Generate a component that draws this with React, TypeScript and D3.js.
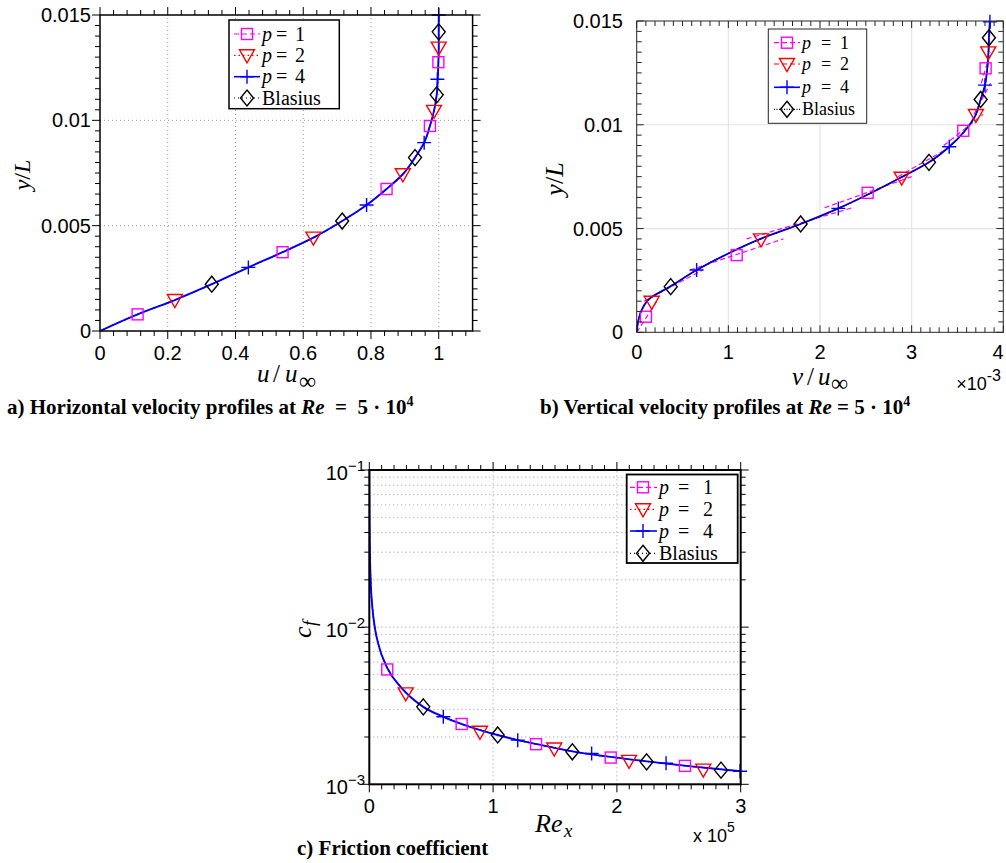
import React from 'react';
import * as d3 from 'd3';

// ---------------- Panel a: u/u_inf vs y/L ----------------
const aCurveU = [0, 0.111, 0.221, 0.330, 0.438, 0.539, 0.630, 0.715, 0.787, 0.846, 0.894, 0.930, 0.957, 0.974, 0.986, 0.994, 0.997, 0.999, 1.0, 1.0, 1.0];
const aCurveY = [0, 0.00079, 0.00147, 0.00222, 0.00302, 0.00374, 0.00443, 0.00522, 0.00598, 0.00674, 0.00744, 0.00823, 0.00894, 0.00973, 0.01045, 0.01121, 0.01195, 0.01276, 0.01345, 0.0142, 0.015];
const aP1: [number, number][] = [[0.111, 0.00079], [0.539, 0.00374], [0.846, 0.00674], [0.974, 0.00973], [0.999, 0.01276]];
const aP2: [number, number][] = [[0.221, 0.00147], [0.630, 0.00443], [0.894, 0.00744], [0.986, 0.01045], [1.0, 0.01345]];
const aP4: [number, number][] = [[0.438, 0.00302], [0.787, 0.00598], [0.957, 0.00894], [0.996, 0.01195], [1.0, 0.015]];
const aBl: [number, number][] = [[0.330, 0.00222], [0.715, 0.00522], [0.930, 0.00823], [0.994, 0.01121], [1.0, 0.0142]];
const aXTicks = [0, 0.2, 0.4, 0.6, 0.8, 1];
const aXTickLabels = ['0', '0.2', '0.4', '0.6', '0.8', '1'];
const aYTicks = [0, 0.005, 0.01, 0.015];
const aYTickLabels = ['0', '0.005', '0.01', '0.015'];

// ---------------- Panel b: v/u_inf (x1e-3) vs y/L ----------------
const bCurveV = [0, 0.015, 0.054, 0.145, 0.363, 0.654, 1.0, 1.35, 1.789, 2.2, 2.55, 2.9, 3.189, 3.41, 3.58, 3.69, 3.753, 3.80, 3.825, 3.838, 3.843, 3.854];
const bCurveY = [0, 0.0005, 0.00107, 0.00164, 0.0022, 0.003, 0.0038, 0.0045, 0.00522, 0.00597, 0.0067, 0.0075, 0.00819, 0.00894, 0.0097, 0.0104, 0.01122, 0.01191, 0.0127, 0.0135, 0.01419, 0.015];
// p = 1 solution: one straight piece per element, [v0, y0, v1, y1]
const bP1Pieces: [number, number, number, number][] = [
  [0.0, 0.0, 0.22, 0.0015],
  [0.08, 0.0015, 0.72, 0.003],
  [0.58, 0.003, 1.6, 0.0045],
  [1.2, 0.0045, 2.35, 0.006],
  [2.05, 0.006, 3.0, 0.0075],
  [2.85, 0.0075, 3.45, 0.009],
  [3.35, 0.009, 3.78, 0.0105],
  [3.68, 0.0105, 3.86, 0.012],
  [3.76, 0.012, 3.86, 0.0135],
  [3.84, 0.0135, 3.86, 0.015],
];
const bP1: [number, number][] = [[0.101, 0.00075], [1.091, 0.00372], [2.52, 0.00672], [3.563, 0.00971], [3.807, 0.01272]];
const bP2: [number, number][] = [[0.164, 0.00147], [1.356, 0.00448], [2.891, 0.00745], [3.701, 0.01047], [3.836, 0.01349]];
const bP4: [number, number][] = [[0.654, 0.003], [2.2, 0.00597], [3.41, 0.00894], [3.80, 0.01191], [3.854, 0.01496]];
const bBl: [number, number][] = [[0.371, 0.0022], [1.789, 0.00522], [3.189, 0.00819], [3.753, 0.01122], [3.843, 0.01419]];
const bXTicks = [0, 1, 2, 3, 4];
const bXTickLabels = ['0', '1', '2', '3', '4'];

// ---------------- Panel c: Re_x (x1e5) vs c_f ----------------
const cCurveX = [0.0005, 0.002, 0.005, 0.011, 0.025, 0.046, 0.073, 0.145, 0.25, 0.436, 0.598, 0.8, 1.037, 1.199, 1.4, 1.64, 1.9, 2.24, 2.6, 3.0];
const cCurveY = [0.1, 0.048, 0.03, 0.02, 0.0133, 0.0098, 0.0078, 0.0055, 0.0042, 0.00311, 0.00269, 0.00234, 0.00206, 0.00191, 0.00177, 0.00162, 0.00151, 0.0014, 0.0013, 0.00121];
const cP1: [number, number][] = [[0.145, 0.00538], [0.746, 0.00242], [1.347, 0.0018], [1.95, 0.00148], [2.55, 0.00131]];
const cP2: [number, number][] = [[0.294, 0.00379], [0.894, 0.00216], [1.494, 0.00169], [2.098, 0.00141], [2.698, 0.00124]];
const cP4: [number, number][] = [[0.598, 0.00269], [1.199, 0.00191], [1.796, 0.00157], [2.397, 0.00136], [2.995, 0.00121]];
const cBl: [number, number][] = [[0.436, 0.00311], [1.037, 0.00206], [1.64, 0.00161], [2.24, 0.00139], [2.841, 0.00123]];
const cXTicks = [0, 1, 2, 3];
const cXTickLabels = ['0', '1', '2', '3'];
const cYTicks = [1e-3, 1e-2, 1e-1];
const cYTickExp = ['\u22123', '\u22122', '\u22121'];

const SANS = "'Liberation Sans', Arial, Helvetica, sans-serif";
const SERIF = "'Liberation Serif', 'Times New Roman', serif";

type Kind = 'square' | 'tri' | 'plus' | 'diamond';

function Marker({ kind, x, y, color, sw = 1.4 }: { kind: Kind; x: number; y: number; color: string; sw?: number }) {
  if (kind === 'square') return <rect x={x - 5.5} y={y - 5.5} width={11} height={11} fill="none" stroke={color} strokeWidth={sw} />;
  if (kind === 'tri') return <path d={`M${x - 7.5},${y - 5.5}L${x + 7.5},${y - 5.5}L${x},${y + 7.5}Z`} fill="none" stroke={color} strokeWidth={sw} />;
  if (kind === 'plus') return <path d={`M${x - 7},${y}H${x + 7}M${x},${y - 7}V${y + 7}`} fill="none" stroke={color} strokeWidth={sw} />;
  return <path d={`M${x},${y - 8}L${x + 6.5},${y}L${x},${y + 8}L${x - 6.5},${y}Z`} fill="none" stroke={color} strokeWidth={sw} />;
}

function Frame(props: {
  xs: any; ys: any; xMaj: number[]; xMin: number[]; yMaj: number[]; yMin: number[];
  out: boolean; majLen: number; minLen: number; stroke: string; sw: number;
}) {
  const { xs, ys, xMaj, xMin, yMaj, yMin, out, majLen, minLen, stroke, sw } = props;
  const [x0, x1] = xs.range();
  const [yb, yt] = ys.range();
  const s = out ? 1 : -1;
  let d = '';
  const xt: [number, number][] = [...xMaj.map((v) => [v, majLen] as [number, number]), ...xMin.map((v) => [v, minLen] as [number, number])];
  const yt2: [number, number][] = [...yMaj.map((v) => [v, majLen] as [number, number]), ...yMin.map((v) => [v, minLen] as [number, number])];
  for (const [v, len] of xt) {
    const px = xs(v);
    d += `M${px},${yb}v${s * len}M${px},${yt}v${-s * len}`;
  }
  for (const [v, len] of yt2) {
    const py = ys(v);
    d += `M${x0},${py}h${-s * len}M${x1},${py}h${s * len}`;
  }
  return (
    <g>
      <path d={d} stroke={stroke} strokeWidth={1} fill="none" />
      <rect x={x0} y={yt} width={x1 - x0} height={yb - yt} fill="none" stroke={stroke} strokeWidth={sw} />
    </g>
  );
}

const SERIES = [
  { key: 'p1', color: '#ff00ff', kind: 'square' as Kind, label: '1' },
  { key: 'p2', color: '#ff0000', kind: 'tri' as Kind, label: '2' },
  { key: 'p4', color: '#0000ff', kind: 'plus' as Kind, label: '4' },
  { key: 'bl', color: '#000000', kind: 'diamond' as Kind, label: 'Blasius' },
];

function Legend({ x, y, w, h, rows, lx0, lx1, mx, tx, fs, eqDx, numDx, dashes, boxSw, boxStroke }: any) {
  return (
    <g>
      <rect x={x} y={y} width={w} height={h} fill="#fff" stroke={boxStroke} strokeWidth={boxSw} />
      {SERIES.map((s, i) => (
        <g key={s.key}>
          <line x1={lx0} x2={lx1} y1={rows[i]} y2={rows[i]} stroke={s.color} strokeWidth={s.key === 'p4' ? 1.6 : 1.2} strokeDasharray={dashes[i]} />
          <Marker kind={s.kind} x={mx} y={rows[i]} color={s.color} />
          {s.key === 'bl' ? (
            <text x={tx} y={rows[i] + fs * 0.33} fontFamily={SERIF} fontSize={fs}>Blasius</text>
          ) : (
            <g>
              <text x={tx} y={rows[i] + fs * 0.33} fontFamily={SERIF} fontSize={fs} fontStyle="italic">p</text>
              <text x={tx + eqDx} y={rows[i] + fs * 0.33} fontFamily={SERIF} fontSize={fs}>=</text>
              <text x={tx + numDx} y={rows[i] + fs * 0.33} fontFamily={SERIF} fontSize={fs}>{s.label}</text>
            </g>
          )}
        </g>
      ))}
    </g>
  );
}

export default function App() {
  // ---- scales
  const ax = d3.scaleLinear().domain([0, 1.1]).range([100, 472.6]);
  const ay = d3.scaleLinear().domain([0, 0.015]).range([331, 15]);
  const bx = d3.scaleLinear().domain([0, 4]).range([636.7, 1003.3]);
  const by = d3.scaleLinear().domain([0, 0.015]).range([332.3, 21]);
  const cx = d3.scaleLinear().domain([0, 3]).range([369.3, 740.7]);
  const cy = d3.scaleLog().domain([1e-3, 1e-1]).range([784.3, 470]);

  const lineA = d3.line<number>().x((_, i) => ax(aCurveU[i])).y((_, i) => ay(aCurveY[i])).curve(d3.curveMonotoneY);
  const lineB = d3.line<number>().x((_, i) => bx(bCurveV[i])).y((_, i) => by(bCurveY[i])).curve(d3.curveMonotoneY);
  const lineC = d3.line<number>().x((_, i) => cx(cCurveX[i])).y((_, i) => cy(cCurveY[i])).curve(d3.curveMonotoneX);
  const pathA = lineA(aCurveU) || '';
  const pathB = lineB(bCurveV) || '';
  const pathC = lineC(cCurveX) || '';
  const pathBP1 = bP1Pieces.map((p) => `M${bx(p[0])},${by(p[1])}L${bx(p[2])},${by(p[3])}`).join('');

  const aXMin = d3.range(0, 1.1, 0.04).filter((v) => !aXTicks.some((t) => Math.abs(t - v) < 1e-6));
  const yMinLin = d3.range(0, 0.0151, 0.0005).filter((v) => !aYTicks.some((t) => Math.abs(t - v) < 1e-7));
  const bXMin = d3.range(0, 4.001, 0.1).filter((v) => !bXTicks.some((t) => Math.abs(t - v) < 1e-6));
  const cXMin = d3.range(0, 3.001, 0.1).filter((v) => !cXTicks.some((t) => Math.abs(t - v) < 1e-6));
  const cYMin: number[] = [];
  [1e-3, 1e-2].forEach((dec) => d3.range(2, 10).forEach((m) => cYMin.push(m * dec)));

  const markersFor = (xs: any, ys: any, sets: [number, number][][]) =>
    sets.map((pts, si) => pts.map((p, j) => <Marker key={`${si}-${j}`} kind={SERIES[si].kind} x={xs(p[0])} y={ys(p[1])} color={SERIES[si].color} />));

  return (
    <svg width={1006} height={863} style={{ position: 'absolute', left: 0, top: 0, background: '#fff' }}>
      <defs>
        <clipPath id="clipA"><rect x={100} y={15} width={372.6} height={316} /></clipPath>
        <clipPath id="clipB"><rect x={636.7} y={21} width={366.6} height={311.3} /></clipPath>
        <clipPath id="clipC"><rect x={369.3} y={470} width={371.4} height={314.3} /></clipPath>
      </defs>
      <rect x={0} y={0} width={1006} height={863} fill="#fff" />

      {/* ================= Panel a ================= */}
      <g>
        {aXTicks.slice(1).map((t) => (
          <line key={'ag' + t} x1={ax(t)} x2={ax(t)} y1={ay(0)} y2={ay(0.015)} stroke="#9a9a9a" strokeWidth={1} strokeDasharray="1,3" />
        ))}
        {aYTicks.slice(1, 3).map((t) => (
          <line key={'agy' + t} x1={ax(0)} x2={ax(1.1)} y1={ay(t)} y2={ay(t)} stroke="#9a9a9a" strokeWidth={1} strokeDasharray="1,3" />
        ))}
        <g clipPath="url(#clipA)">
          <path d={pathA} fill="none" stroke="#000" strokeWidth={1.2} strokeDasharray="1,2.5" />
          <path d={pathA} fill="none" stroke="#ff00ff" strokeWidth={1.2} strokeDasharray="6,3" />
          <path d={pathA} fill="none" stroke="#ff0000" strokeWidth={1.2} strokeDasharray="1.5,3" />
          <path d={pathA} fill="none" stroke="#0000ff" strokeWidth={1.9} />
        </g>
        {markersFor(ax, ay, [aP1, aP2, aP4, aBl])}
        <Frame xs={ax} ys={ay} xMaj={aXTicks} xMin={aXMin} yMaj={aYTicks} yMin={yMinLin} out={true} majLen={8} minLen={5} stroke="#000" sw={1.5} />
        {aXTicks.map((t, i) => (
          <text key={'axl' + t} x={ax(t)} y={360} textAnchor="middle" fontFamily={SANS} fontSize={20}>{aXTickLabels[i]}</text>
        ))}
        {aYTicks.map((t, i) => (
          <text key={'ayl' + t} x={91} y={ay(t) + 7} textAnchor="end" fontFamily={SANS} fontSize={20}>{aYTickLabels[i]}</text>
        ))}
        <Legend x={229} y={20} w={110.3} h={88.7} rows={[34, 55.3, 76.7, 98]} lx0={234} lx1={260} mx={247} tx={262} fs={20} eqDx={14} numDx={33}
          dashes={['5,3', '1.5,3', undefined, '1,3']} boxSw={1.5} boxStroke="#000" />
        <text y={382} fontFamily={SERIF} fontSize={25}>
          <tspan x={257} fontStyle="italic">u</tspan>
          <tspan x={273}>/</tspan>
          <tspan x={285} fontStyle="italic">u</tspan>
          <tspan x={299} y={389} fontSize={24}>∞</tspan>
        </text>
        <text transform="translate(30,175) rotate(-90)" textAnchor="middle" fontFamily={SERIF} fontSize={24}>
          <tspan fontStyle="italic">y</tspan>/<tspan fontStyle="italic">L</tspan>
        </text>
        <text x={7} y={414} fontFamily={SERIF} fontWeight="bold" fontSize={21} style={{ whiteSpace: 'pre' }}>
          a) Horizontal velocity profiles at <tspan fontStyle="italic">Re</tspan>{'  =  5 · 10'}<tspan dy={-8} fontSize={14}>4</tspan>
        </text>
      </g>

      {/* ================= Panel b ================= */}
      <g>
        {bXTicks.slice(1, 4).map((t) => (
          <line key={'bg' + t} x1={bx(t)} x2={bx(t)} y1={by(0)} y2={by(0.015)} stroke="#e3e3e3" strokeWidth={1.2} />
        ))}
        {aYTicks.slice(1, 3).map((t) => (
          <line key={'bgy' + t} x1={bx(0)} x2={bx(4)} y1={by(t)} y2={by(t)} stroke="#e3e3e3" strokeWidth={1.2} />
        ))}
        <g clipPath="url(#clipB)">
          <path d={pathBP1} fill="none" stroke="#ff00ff" strokeWidth={1.2} strokeDasharray="5,3" />
          <path d={pathB} fill="none" stroke="#ff0000" strokeWidth={1.2} strokeDasharray="5,3" />
          <path d={pathB} fill="none" stroke="#0000ff" strokeWidth={1.8} />
          <path d={pathB} fill="none" stroke="#000033" strokeWidth={1.2} strokeDasharray="1,1.5" />
        </g>
        {markersFor(bx, by, [bP1, bP2, bP4, bBl])}
        <Frame xs={bx} ys={by} xMaj={bXTicks} xMin={bXMin} yMaj={aYTicks} yMin={yMinLin} out={false} majLen={7} minLen={5} stroke="#262626" sw={1} />
        {bXTicks.map((t, i) => (
          <text key={'bxl' + t} x={Math.min(bx(t), 998)} y={359} textAnchor="middle" fontFamily={SANS} fontSize={20}>{bXTickLabels[i]}</text>
        ))}
        {aYTicks.map((t, i) => (
          <text key={'byl' + t} x={623} y={by(t) + 7} textAnchor="end" fontFamily={SANS} fontSize={20}>{aYTickLabels[i]}</text>
        ))}
        <text x={1001} y={390} textAnchor="end" fontFamily={SANS} fontSize={18}>
          ×10<tspan dy={-9} fontSize={16}>-3</tspan>
        </text>
        <Legend x={768.3} y={29} w={98.4} h={94.3} rows={[42.7, 64, 87.3, 109.3]} lx0={774} lx1={800} mx={787} tx={802} fs={18} eqDx={19} numDx={38}
          dashes={['5,3', '5,3', undefined, '1,1.5']} boxSw={1} boxStroke="#262626" />
        <text y={385} fontFamily={SERIF} fontSize={25}>
          <tspan x={792} fontStyle="italic">v</tspan>
          <tspan x={807}>/</tspan>
          <tspan x={818} fontStyle="italic">u</tspan>
          <tspan x={831} y={391} fontSize={24}>∞</tspan>
        </text>
        <text transform="translate(563,179) rotate(-90)" textAnchor="middle" fontFamily={SERIF} fontSize={26}>
          <tspan fontStyle="italic">y</tspan>/<tspan fontStyle="italic">L</tspan>
        </text>
        <text x={540} y={414} fontFamily={SERIF} fontWeight="bold" fontSize={21} style={{ whiteSpace: 'pre' }}>
          b) Vertical velocity profiles at <tspan fontStyle="italic">Re</tspan>{' = 5 · 10'}<tspan dy={-8} fontSize={14}>4</tspan>
        </text>
      </g>

      {/* ================= Panel c ================= */}
      <g>
        {cXTicks.slice(1, 3).map((t) => (
          <line key={'cg' + t} x1={cx(t)} x2={cx(t)} y1={cy(1e-3)} y2={cy(1e-1)} stroke="#9a9a9a" strokeWidth={1} strokeDasharray="1,3" />
        ))}
        {[...cYMin, 1e-2].map((t) => (
          <line key={'cgy' + t} x1={cx(0)} x2={cx(3)} y1={cy(t)} y2={cy(t)} stroke="#9a9a9a" strokeWidth={1} strokeDasharray="1,3" />
        ))}
        <g clipPath="url(#clipC)">
          <path d={pathC} fill="none" stroke="#000" strokeWidth={1.2} strokeDasharray="1,2.5" />
          <path d={pathC} fill="none" stroke="#ff00ff" strokeWidth={1.2} strokeDasharray="6,3" />
          <path d={pathC} fill="none" stroke="#ff0000" strokeWidth={1.2} strokeDasharray="1.5,3" />
          <path d={pathC} fill="none" stroke="#0000ff" strokeWidth={1.9} />
        </g>
        {markersFor(cx, cy, [cP1, cP2, cP4, cBl])}
        <Frame xs={cx} ys={cy} xMaj={cXTicks} xMin={cXMin} yMaj={cYTicks} yMin={cYMin} out={true} majLen={8} minLen={5} stroke="#000" sw={2} />
        {cXTicks.map((t, i) => (
          <text key={'cxl' + t} x={cx(t)} y={813} textAnchor="middle" fontFamily={SANS} fontSize={20}>{cXTickLabels[i]}</text>
        ))}
        {cYTicks.map((t, i) => (
          <text key={'cyl' + t} x={365} y={cy(t) + 10} textAnchor="end" fontFamily={SANS} fontSize={20}>
            10<tspan dy={-9} fontSize={15}>{cYTickExp[i]}</tspan>
          </text>
        ))}
        <text x={693} y={842} fontFamily={SANS} fontSize={18}>
          x 10<tspan dy={-10} fontSize={14}>5</tspan>
        </text>
        <Legend x={626.7} y={474.5} w={111} h={88.5} rows={[487.3, 509.3, 531, 553.3]} lx0={630} lx1={657} mx={643} tx={659} fs={20} eqDx={19} numDx={44}
          dashes={['5,3', '1.5,3', undefined, '1,3']} boxSw={1.8} boxStroke="#000" />
        <text y={832} fontFamily={SERIF} fontSize={26}>
          <tspan x={535} fontStyle="italic">Re</tspan>
          <tspan x={564} y={837} fontSize={19} fontStyle="italic">x</tspan>
        </text>
        <text transform="translate(311,630) rotate(-90)" fontFamily={SERIF} fontSize={26}>
          <tspan x={-8} fontStyle="italic">c</tspan>
          <tspan x={4} y={5} fontSize={19} fontStyle="italic">f</tspan>
        </text>
        <text x={297} y={855} fontFamily={SERIF} fontWeight="bold" fontSize={21}>c) Friction coefficient</text>
      </g>
    </svg>
  );
}
